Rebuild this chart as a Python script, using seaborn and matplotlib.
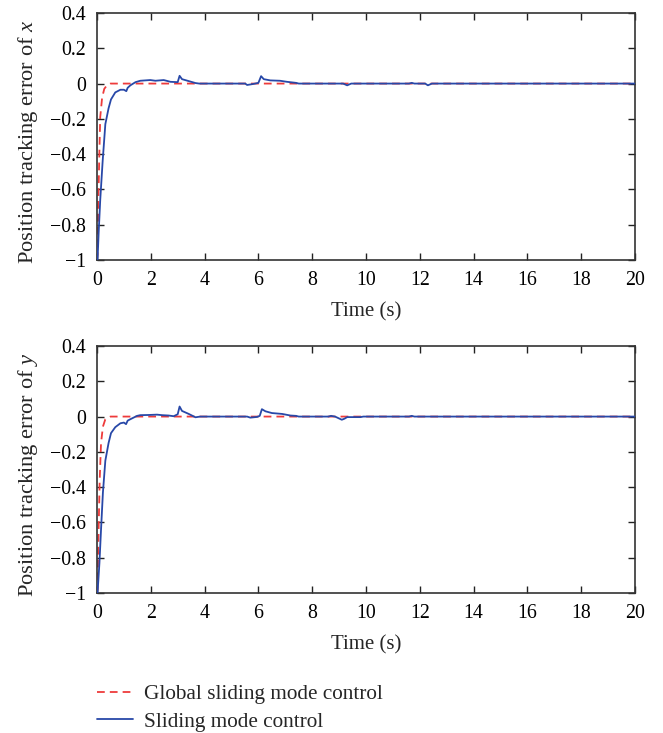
import numpy as np
import pandas as pd
import matplotlib
matplotlib.use("Agg")
import matplotlib.pyplot as plt
import seaborn as sns
from matplotlib.ticker import FuncFormatter
from matplotlib.lines import Line2D

# ---- data ----
gsmc_x_t = [0, 0.025, 0.05, 0.09, 0.12, 0.19, 0.27, 0.37, 0.5, 20]
gsmc_x_v = [-1, -0.95, -0.66, -0.38, -0.19, -0.08, -0.03, -0.01, 0, 0]

smc_x_t = [0, 0.02, 0.06, 0.12, 0.21, 0.31, 0.43, 0.52, 0.68, 0.87, 1.0, 1.09, 1.14, 1.24,
           1.43, 1.61, 1.98, 2.17, 2.48, 2.73, 3.0, 3.07, 3.16, 3.41, 3.66, 3.8, 5.51, 5.58,
           5.82, 6.0, 6.1, 6.2, 6.44, 6.8, 7.06, 7.4, 7.5, 9.15, 9.3, 9.45, 11.6, 11.7, 11.8,
           12.2, 12.3, 12.45, 20]
smc_x_v = [-1, -1, -0.85, -0.66, -0.44, -0.23, -0.14, -0.09, -0.05, -0.035, -0.035, -0.043,
           -0.024, -0.01, 0.008, 0.016, 0.02, 0.016, 0.02, 0.01, 0.008, 0.044, 0.025, 0.014,
           0.003, 0, 0, -0.008, -0.002, 0.004, 0.042, 0.025, 0.018, 0.016, 0.01, 0.004, 0,
           0, -0.01, 0, 0, 0.004, 0, 0, -0.01, 0, 0]

gsmc_y_t = [0, 0.02, 0.06, 0.1, 0.15, 0.22, 0.31, 0.5, 20]
gsmc_y_v = [-1, -0.98, -0.64, -0.36, -0.15, -0.057, -0.015, 0, 0]

smc_y_t = [0, 0.02, 0.09, 0.15, 0.22, 0.31, 0.43, 0.52, 0.68, 0.87, 1.0, 1.08, 1.14, 1.24,
           1.49, 1.61, 1.92, 2.23, 2.42, 2.66, 2.85, 3.0, 3.07, 3.16, 3.41, 3.66, 3.84, 5.58,
           5.7, 5.95, 6.05, 6.13, 6.26, 6.5, 6.88, 7.19, 7.4, 7.5, 8.6, 8.7, 8.85, 9.1, 9.2,
           9.3, 9.8, 9.9, 11.6, 11.7, 11.8, 20]
smc_y_v = [-1, -1, -0.83, -0.64, -0.43, -0.25, -0.15, -0.094, -0.06, -0.038, -0.034, -0.043,
           -0.023, -0.015, 0.004, 0.008, 0.009, 0.011, 0.008, 0.006, 0.002, 0.013, 0.057, 0.032,
           0.015, -0.004, 0, 0, -0.006, -0.002, 0.004, 0.042, 0.03, 0.02, 0.015, 0.006, 0.004,
           0, 0, 0.004, 0, -0.018, -0.012, -0.003, -0.003, 0, 0, 0.004, 0, 0]

yticks = [-1, -0.8, -0.6, -0.4, -0.2, 0, 0.2, 0.4]
xticks = [0, 2, 4, 6, 8, 10, 12, 14, 16, 18, 20]
legend_labels = ["Global sliding mode control", "Sliding mode control"]

# ---- style ----
sns.set_theme(style="white")
plt.rcParams["font.family"] = ["Liberation Serif", "DejaVu Serif"]
plt.rcParams["mathtext.fontset"] = "custom"
plt.rcParams["mathtext.it"] = "Liberation Serif:italic"
plt.rcParams["mathtext.rm"] = "Liberation Serif"

RED = "#ee3b3b"
BLUE = "#2848a8"
DASH = (0, (4.3, 2.8))
FS_TICK = 14.3
FS_XLAB = 15
FS_YLAB = 16.2
FS_LEG = 15.3

fig = plt.figure(figsize=(6.63, 7.33), dpi=100)
L, R = 97 / 663, 635 / 663
ax1 = fig.add_axes([L, 1 - 260 / 733, R - L, (260 - 13) / 733])
ax2 = fig.add_axes([L, 1 - 593 / 733, R - L, (593 - 346) / 733])

fmt = FuncFormatter(lambda v, p: ("%g" % v).replace("-", "\u2212"))

panels = [
    (ax1, gsmc_x_t, gsmc_x_v, smc_x_t, smc_x_v, r"Position tracking error of $\mathit{x}$"),
    (ax2, gsmc_y_t, gsmc_y_v, smc_y_t, smc_y_v, r"Position tracking error of $\mathit{y}$"),
]
for ax, gt, gv, st, sv, ylab in panels:
    dg = pd.DataFrame({"t": gt, "e": gv})
    ds = pd.DataFrame({"t": st, "e": sv})
    sns.lineplot(data=dg, x="t", y="e", ax=ax, color=RED, lw=1.3, dashes=False,
                 linestyle=DASH, estimator=None, sort=False, zorder=2)
    sns.lineplot(data=ds, x="t", y="e", ax=ax, color=BLUE, lw=1.3, estimator=None,
                 sort=False, zorder=3)
    ax.set_xlim(0, 20)
    ax.set_ylim(-1, 0.4)
    ax.set_xticks(xticks)
    ax.set_yticks(yticks)
    ax.xaxis.set_major_formatter(fmt)
    ax.yaxis.set_major_formatter(fmt)
    ax.tick_params(direction="in", length=5, width=1, colors="#222222", labelcolor="black",
                   labelsize=FS_TICK, top=True, right=True, bottom=True, left=True, pad=8)
    for s in ax.spines.values():
        s.set_color("#333333")
        s.set_linewidth(1.2)
    ax.set_xlabel("Time (s)", fontsize=FS_XLAB, labelpad=9)
    ax.set_ylabel(ylab, fontsize=FS_YLAB)
    ax.yaxis.set_label_coords(-0.106, 0.48)

handles = [Line2D([], [], color=RED, lw=1.3, linestyle=DASH),
           Line2D([], [], color=BLUE, lw=1.3)]
fig.legend(handles, legend_labels, loc="upper left", bbox_to_anchor=(78 / 663, 1 - 665 / 733),
           frameon=False, fontsize=FS_LEG, handlelength=1.68, handletextpad=0.53,
           labelspacing=0.37)

fig.savefig("out.png", dpi=100)
